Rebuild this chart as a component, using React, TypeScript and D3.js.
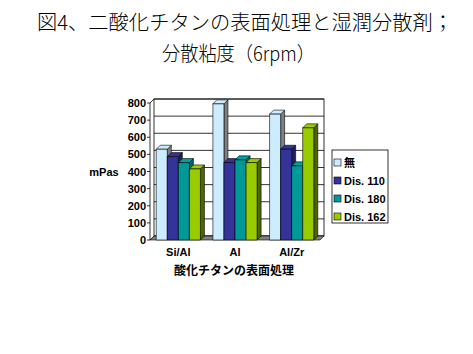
import * as d3 from 'd3';

const categories = ['Si/Al', 'Al', 'Al/Zr'];
const seriesNames = ['無', 'Dis. 110', 'Dis. 180', 'Dis. 162'];
const muValues = [530, 795, 735];
const dis110Values = [487, 452, 530];
const dis180Values = [452, 468, 433];
const dis162Values = [415, 452, 655];
const yTicks = [0, 100, 200, 300, 400, 500, 600, 700, 800];

const seriesValues = [muValues, dis110Values, dis180Values, dis162Values];
const FRONT = ['#CCECFF', '#333399', '#009999', '#99CC00'];
const SIDE = ['#808080', '#1f1f5c', '#006666', '#4d6600'];
const TOP = ['#CCECFF', '#333399', '#00A0A0', '#99CC00'];

const W = 473;
const H = 354;
const X0 = 150;
const X1 = 320;
const DEPTH = 4;
const FONT = '"Liberation Sans", Arial, sans-serif';
const CJK = '"Noto Sans CJK JP", sans-serif';

export default function App() {
  const x = d3.scaleBand<string>().domain(categories).range([X0, X1]).paddingInner(0.22).paddingOuter(0.11);
  const inner = d3.scaleBand<number>().domain(seriesNames.map((_, i) => i)).range([0, x.bandwidth()]);
  const y = d3.scaleLinear().domain([0, 800]).range([240, 103]);
  const bw = inner.bandwidth();
  const dx = DEPTH;
  const dy = -DEPTH;

  const bars: JSX.Element[] = [];
  categories.forEach((c, ci) => {
    seriesValues.forEach((vals, si) => {
      const bx = x(c)! + inner(si)!;
      const top = y(vals[ci]);
      const bottom = y(0);
      const key = `${ci}-${si}`;
      bars.push(
        <g key={key} stroke="#000" strokeWidth={0.6} strokeLinejoin="round">
          <path
            d={`M${bx + bw},${top} L${bx + bw + dx},${top + dy} L${bx + bw + dx},${bottom + dy} L${bx + bw},${bottom} Z`}
            fill={SIDE[si]}
          />
          <path
            d={`M${bx},${top} L${bx + dx},${top + dy} L${bx + bw + dx},${top + dy} L${bx + bw},${top} Z`}
            fill={TOP[si]}
          />
          <rect x={bx} y={top} width={bw} height={bottom - top} fill={FRONT[si]} />
        </g>
      );
    });
  });

  return (
    <div style={{ position: 'fixed', left: 0, top: 0 }}>
      <svg width={W} height={H} style={{ display: 'block', background: '#fff' }}>
        <g fontFamily={CJK} fontSize={20} fontWeight={300} fill="#000">
          <text x={37} y={30} textLength={416} lengthAdjust="spacingAndGlyphs">
            図4、二酸化チタンの表面処理と湿潤分散剤；
          </text>
          <text x={162} y={61} textLength={153} lengthAdjust="spacingAndGlyphs">
            分散粘度（6rpm）
          </text>
        </g>

        {/* back wall */}
        <rect x={X0 + dx} y={y(800) + dy} width={X1 - X0} height={y(0) - y(800)} fill="#fff" stroke="#000" strokeWidth={0.8} />
        {yTicks.map((t) => (
          <line key={t} x1={X0 + dx} x2={X1 + dx} y1={y(t) + dy} y2={y(t) + dy} stroke="#000" strokeWidth={0.8} />
        ))}
        {/* left wall edge and floor */}
        <path
          d={`M${X0},${y(800)} L${X0 + dx},${y(800) + dy} M${X0},${y(0)} L${X0 + dx},${y(0) + dy}`}
          stroke="#000"
          strokeWidth={0.8}
        />
        <line x1={X0} x2={X0} y1={y(800)} y2={y(0)} stroke="#000" strokeWidth={0.8} />
        <path
          d={`M${X0},${y(0)} L${X1},${y(0)} L${X1 + dx},${y(0) + dy} L${X0 + dx},${y(0) + dy} Z`}
          fill="#808080"
          stroke="#000"
          strokeWidth={0.6}
        />
        {yTicks.map((t) => (
          <line key={`tk${t}`} x1={X0 - 3} x2={X0} y1={y(t)} y2={y(t)} stroke="#000" strokeWidth={0.8} />
        ))}

        {bars}

        <g fontFamily={FONT} fontWeight="bold" fontSize={11} fill="#000">
          {yTicks.map((t) => (
            <text key={`yl${t}`} x={X0 - 4} y={y(t) + 4} textAnchor="end">
              {t}
            </text>
          ))}
          {categories.map((c) => (
            <text key={c} x={x(c)! + x.bandwidth() / 2} y={256} textAnchor="middle">
              {c}
            </text>
          ))}
          <text x={104} y={176} textAnchor="middle">
            mPas
          </text>
        </g>
        <text x={234} y={275} textAnchor="middle" fontSize={12} fontWeight="bold" fontFamily={CJK}>
          酸化チタンの表面処理
        </text>

        {/* legend */}
        <rect x={332} y={150} width={56} height={73} fill="#fff" stroke="#000" strokeWidth={0.8} />
        {seriesNames.map((s, i) => (
          <g key={s}>
            <rect x={334} y={159 + i * 18} width={7} height={7} fill={FRONT[i]} stroke="#000" strokeWidth={0.6} />
            <text x={344} y={167 + i * 18} fontSize={11} fontWeight="bold" fontFamily={i === 0 ? CJK : FONT}>
              {s}
            </text>
          </g>
        ))}
      </svg>
    </div>
  );
}
